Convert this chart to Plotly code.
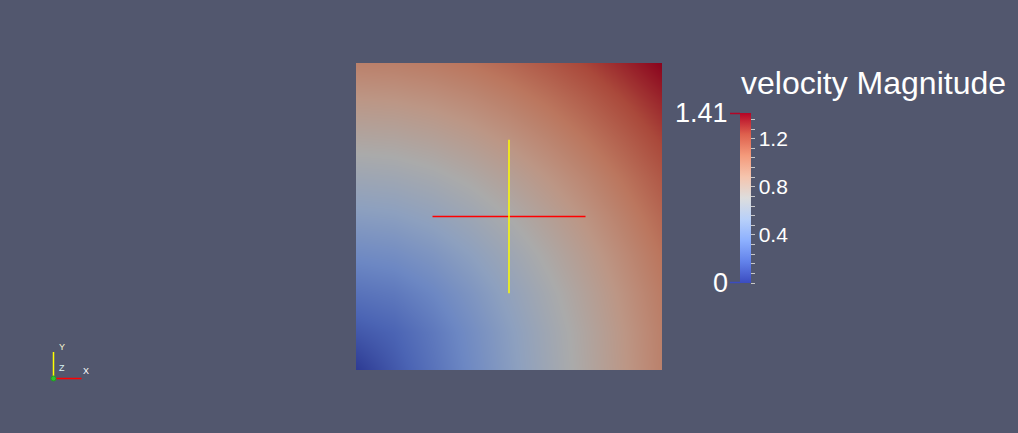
import plotly.graph_objects as go

# -------------------------
# DATA
# -------------------------
grid_x = [0.0, 0.125, 0.25, 0.375, 0.5, 0.625, 0.75, 0.875, 1.0]
grid_y = [0.0, 0.125, 0.25, 0.375, 0.5, 0.625, 0.75, 0.875, 1.0]

# velocity magnitude, one row per grid_y value (bottom to top)
row_0 = [0.0, 0.125, 0.25, 0.375, 0.5, 0.625, 0.75, 0.875, 1.0]
row_1 = [0.125, 0.177, 0.28, 0.395, 0.515, 0.637, 0.76, 0.884, 1.008]
row_2 = [0.25, 0.28, 0.354, 0.451, 0.559, 0.673, 0.791, 0.91, 1.031]
row_3 = [0.375, 0.395, 0.451, 0.53, 0.625, 0.729, 0.839, 0.952, 1.068]
row_4 = [0.5, 0.515, 0.559, 0.625, 0.707, 0.8, 0.901, 1.008, 1.118]
row_5 = [0.625, 0.637, 0.673, 0.729, 0.8, 0.884, 0.976, 1.075, 1.179]
row_6 = [0.75, 0.76, 0.791, 0.839, 0.901, 0.976, 1.061, 1.152, 1.25]
row_7 = [0.875, 0.884, 0.91, 0.952, 1.008, 1.075, 1.152, 1.237, 1.329]
row_8 = [1.0, 1.008, 1.031, 1.068, 1.118, 1.179, 1.25, 1.329, 1.414]

v_min = 0.0
v_max = 1.414

# probe crosshair
probe_x = [0.25, 0.75]
probe_y = [0.5, 0.5]
probe_vx = [0.5, 0.5]
probe_vy = [0.25, 0.75]

colorbar_ticks = [0.0, 0.08, 0.16, 0.24, 0.32, 0.4, 0.48, 0.56, 0.64, 0.72,
                  0.8, 0.88, 0.96, 1.04, 1.12, 1.2, 1.28, 1.36]
colorbar_text = ["", "", "", "", "", "0.4", "", "", "", "",
                 "0.8", "", "", "", "", "1.2", "", ""]

# -------------------------
# STYLE
# -------------------------
W, H = 1018, 433
BG = "#52576e"
FONT = "Liberation Sans"

cool_warm = [
    (0.0, (59, 76, 192)),
    (0.125, (98, 130, 234)),
    (0.25, (141, 176, 254)),
    (0.375, (184, 208, 249)),
    (0.5, (221, 221, 221)),
    (0.625, (245, 196, 173)),
    (0.75, (244, 154, 123)),
    (0.875, (222, 96, 77)),
    (1.0, (180, 4, 38)),
]
bright_scale = [[p, "rgb(%d,%d,%d)" % c] for p, c in cool_warm]
# surface is lit, so its colours come out darker than the legend bar
shade = 0.77
dim_scale = [[p, "rgb(%d,%d,%d)" % tuple(int(v * shade) for v in c)] for p, c in cool_warm]


def px(x):
    return x / W


def py(y):
    return 1 - y / H


fig = go.Figure()

fig.add_trace(go.Heatmap(
    x=grid_x,
    y=grid_y,
    z=[row_0, row_1, row_2, row_3, row_4, row_5, row_6, row_7, row_8],
    colorscale=dim_scale,
    zmin=v_min,
    zmax=v_max,
    zsmooth="best",
    showscale=False,
    hoverinfo="skip",
))

fig.add_trace(go.Scatter(
    x=probe_x, y=probe_y, mode="lines",
    line=dict(color="#ff0000", width=1.5),
    hoverinfo="skip", showlegend=False,
))
fig.add_trace(go.Scatter(
    x=probe_vx, y=probe_vy, mode="lines",
    line=dict(color="#ffff00", width=1.5),
    hoverinfo="skip", showlegend=False,
))

# legend bar only
fig.add_trace(go.Scatter(
    x=[0.5], y=[0.5], mode="markers",
    marker=dict(
        color=[v_min], colorscale=bright_scale, cmin=v_min, cmax=v_max,
        opacity=0, showscale=True,
        colorbar=dict(
            thickness=11, thicknessmode="pixels",
            len=170, lenmode="pixels",
            x=px(740), xanchor="left",
            y=py(283), yanchor="bottom",
            xpad=0, ypad=0,
            outlinewidth=0, borderwidth=0,
            ticks="outside", ticklen=4, tickwidth=1, tickcolor="#c8c8c8",
            tickmode="array", tickvals=colorbar_ticks, ticktext=colorbar_text,
            tickfont=dict(family=FONT, size=21, color="white"),
        ),
    ),
    hoverinfo="skip", showlegend=False,
))

shapes = [
    # range marks at the bar ends
    dict(type="line", xref="paper", yref="paper", x0=px(730), x1=px(740),
         y0=py(113.5), y1=py(113.5), line=dict(color="#b40426", width=1.5)),
    dict(type="line", xref="paper", yref="paper", x0=px(730), x1=px(740),
         y0=py(282.5), y1=py(282.5), line=dict(color="#3b4cc0", width=1.5)),
    # orientation axes
    dict(type="line", xref="paper", yref="paper", x0=px(53.5), x1=px(53.5),
         y0=py(378.5), y1=py(352), line=dict(color="#ffff00", width=1.5)),
    dict(type="line", xref="paper", yref="paper", x0=px(53.5), x1=px(81.5),
         y0=py(378.5), y1=py(378.5), line=dict(color="#ff0000", width=1.5)),
    dict(type="circle", xref="paper", yref="paper", x0=px(51), x1=px(56),
         y0=py(381), y1=py(376), line=dict(color="#1fa01f", width=1),
         fillcolor="#30c030"),
]

annotations = [
    dict(text="velocity Magnitude", x=px(740), y=py(83), xref="paper", yref="paper",
         xanchor="left", yanchor="middle", showarrow=False, borderpad=0,
         font=dict(family=FONT, size=32, color="white")),
    dict(text="1.41", x=px(729), y=py(113), xref="paper", yref="paper",
         xanchor="right", yanchor="middle", showarrow=False, borderpad=0,
         font=dict(family=FONT, size=27, color="white")),
    dict(text="0", x=px(729), y=py(283), xref="paper", yref="paper",
         xanchor="right", yanchor="middle", showarrow=False, borderpad=0,
         font=dict(family=FONT, size=27, color="white")),
    dict(text="Y", x=px(58), y=py(353), xref="paper", yref="paper",
         showarrow=False, borderpad=0,
         font=dict(family=FONT, size=9, color="#f4f4d0")),
    dict(text="X", x=px(81.5), y=py(377), xref="paper", yref="paper",
         showarrow=False, borderpad=0,
         font=dict(family=FONT, size=9, color="white")),
    dict(text="Z", x=px(58), y=py(374), xref="paper", yref="paper",
         showarrow=False, borderpad=0,
         font=dict(family=FONT, size=9, color="#d8f4f4")),
]

fig.update_layout(
    width=W, height=H,
    margin=dict(l=0, r=0, t=0, b=0),
    paper_bgcolor=BG, plot_bgcolor=BG,
    showlegend=False,
    xaxis=dict(visible=False, range=[0, 1], domain=[px(356), px(662)], fixedrange=True),
    yaxis=dict(visible=False, range=[0, 1], domain=[py(370), py(63)], fixedrange=True),
    shapes=shapes,
    annotations=annotations,
)

# page has a default body margin; drop it so the figure fills the window
fig.write_html(
    "out.html",
    config={"displayModeBar": False},
    post_script="document.body.style.margin='0';document.body.style.background='%s';" % BG,
)
